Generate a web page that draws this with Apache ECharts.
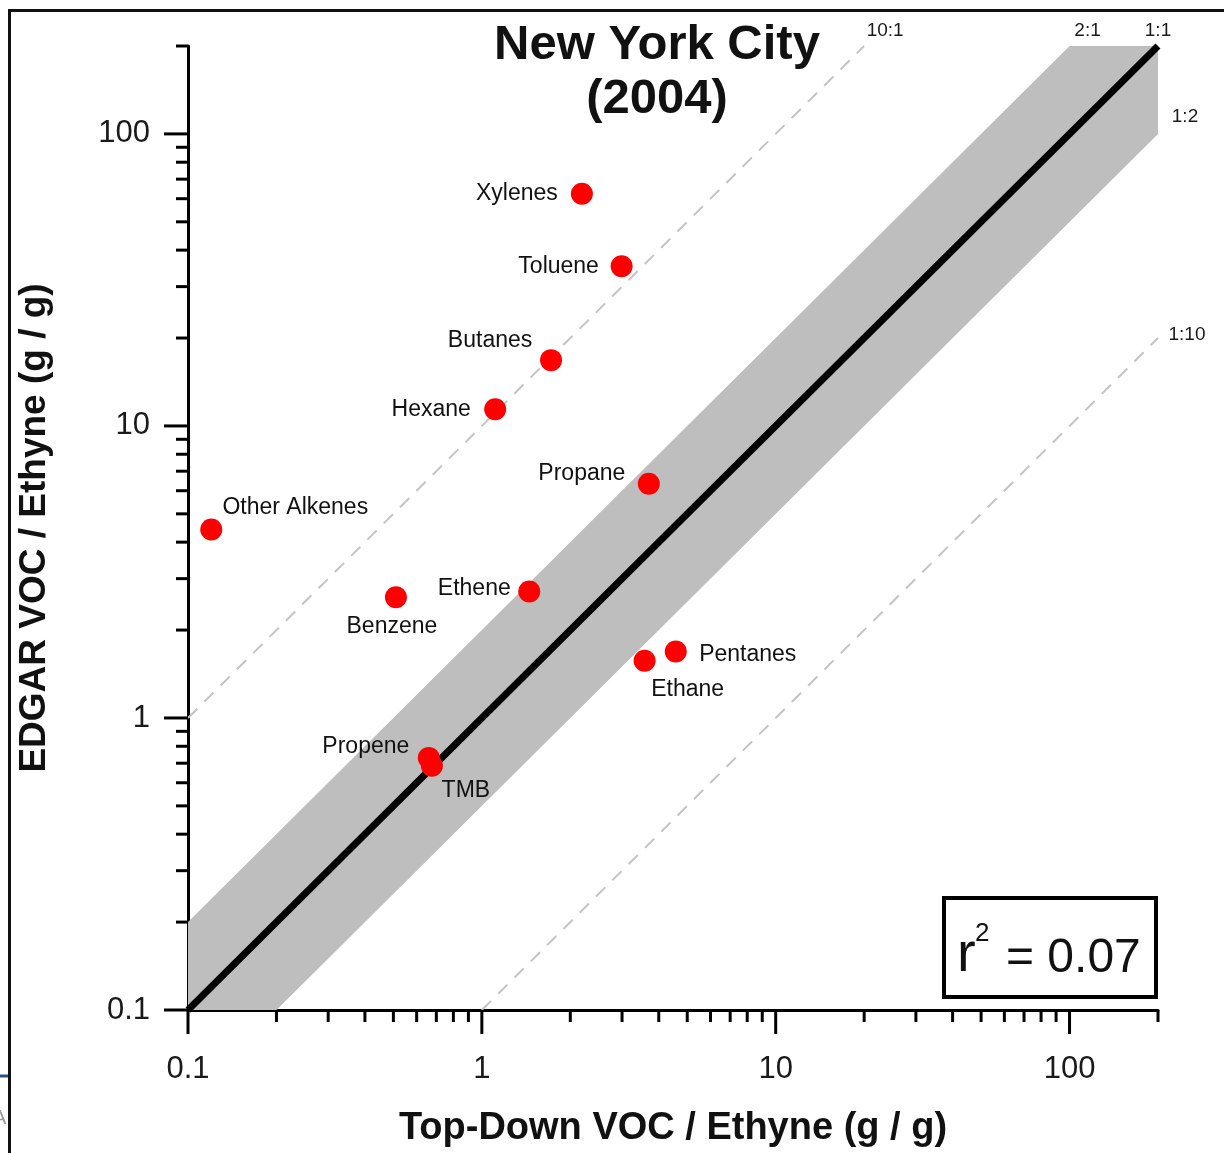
<!DOCTYPE html>
<html>
<head>
<meta charset="utf-8">
<script src="https://cdn.jsdelivr.net/npm/echarts@6/dist/echarts.min.js"></script>
<style>
html,body{margin:0;padding:0;background:#fff;}
#chart{width:1224px;height:1153px;}
</style>
</head>
<body>
<div id="chart"></div>
<script>
// ---- data ----
const species = ['Xylenes','Toluene','Butanes','Hexane','Propane','Other Alkenes','Benzene','Ethene','Pentanes','Ethane','Propene','TMB'];
const topDownRatio = [2.19, 2.99, 1.72, 1.11, 3.70, 0.12, 0.51, 1.45, 4.57, 3.58, 0.66, 0.676];
const edgarRatio   = [62.4, 35.2, 16.8, 11.4, 6.34, 4.42, 2.59, 2.71, 1.69, 1.57, 0.73, 0.686];
const ratioValues = [10, 2, 1, 0.5, 0.1];
const ratioNames  = ['10:1', '2:1', '1:1', '1:2', '1:10'];
const axisMin = 0.1;
const axisMax = 200;
const majorTicks = [0.1, 1, 10, 100];
const majorTickLabels = ['0.1', '1', '10', '100'];
const minorTicks = [0.2,0.3,0.4,0.5,0.6,0.7,0.8,0.9, 2,3,4,5,6,7,8,9, 20,30,40,50,60,70,80,90, 200];
const rSquaredText = '0.07';
const titleLines = ['New York City', '(2004)'];
const xAxisTitle = 'Top-Down VOC / Ethyne (g / g)';
const yAxisTitle = 'EDGAR VOC / Ethyne (g / g)';

// ---- styles (kept apart from data) ----
const FONT = 'Liberation Sans, Arial, Helvetica, sans-serif';
const labelOffsets = [[-65,0],[-63,0],[-61,-19],[-64,0],[-67,-10],[84,-22],[-4,29],[-55,-3],[72,3],[43,29],[-63,-11],[34,25]];
const ratioLabelOffsets = [[21,-15],[18,-15],[0,-15],[27,-17],[29,-3]];

// ratio line endpoints clipped to the axis box
function ratioSegment(r) {
  const x0 = Math.max(axisMin, axisMin / r);
  const x1 = Math.min(axisMax, axisMax / r);
  return [[x0, r * x0], [x1, r * x1]];
}

const upper = ratioSegment(2), lower = ratioSegment(0.5);
const bandPolygon = [lower[0], lower[1], [axisMax, axisMax], upper[1], upper[0], [axisMin, axisMin]];

const labelFmt = function (v) {
  for (let i = 0; i < majorTicks.length; i++) {
    if (Math.abs(v - majorTicks[i]) / majorTicks[i] < 1e-6) return majorTickLabels[i];
  }
  return '';
};

const tickData = [];
majorTicks.forEach(v => { tickData.push([v, axisMin, 24, 0]); tickData.push([axisMin, v, 24, 1]); });
minorTicks.forEach(v => { tickData.push([v, axisMin, 12, 0]); tickData.push([axisMin, v, 12, 1]); });

const series = [];
// grey 1:2 - 2:1 band
series.push({
  type: 'custom',
  z: 1,
  silent: true,
  clip: false,
  data: [[axisMin, axisMin]],
  renderItem: function (params, api) {
    return {
      type: 'polygon',
      shape: { points: bandPolygon.map(p => api.coord(p)) },
      style: { fill: '#bebebe' }
    };
  }
});
// dashed 10:1 and 1:10 lines
[10, 0.1].forEach(r => {
  series.push({
    type: 'line', z: 2, silent: true, clip: false, symbol: 'none',
    data: ratioSegment(r),
    lineStyle: { color: '#c4c4c4', width: 2, type: [13, 10] }
  });
});
// 1:1 line
series.push({
  type: 'line', z: 3, silent: true, clip: false, symbol: 'none',
  data: ratioSegment(1),
  lineStyle: { color: '#000', width: 7, cap: 'butt' }
});
// ratio labels at line ends
series.push({
  type: 'scatter', z: 4, silent: true, clip: false,
  symbolSize: 1,
  itemStyle: { color: 'rgba(0,0,0,0)', opacity: 1 },
  data: ratioValues.map((r, i) => ({
    value: ratioSegment(r)[1],
    label: { show: true, formatter: ratioNames[i], position: 'inside', offset: ratioLabelOffsets[i],
      color: '#1a1a1a', fontSize: 19, fontFamily: FONT }
  }))
});
// tick marks
series.push({
  type: 'custom', z: 5, silent: true, clip: false,
  data: tickData,
  renderItem: function (params, api) {
    const p = api.coord([api.value(0), api.value(1)]);
    const len = api.value(2);
    const which = api.value(3);
    const shape = which === 0
      ? { x1: p[0], y1: p[1], x2: p[0], y2: p[1] + len }
      : { x1: p[0] - len, y1: p[1], x2: p[0], y2: p[1] };
    return { type: 'line', shape: shape, style: { stroke: '#000', lineWidth: 3 } };
  }
});
// data points
series.push({
  type: 'scatter', z: 10, clip: false,
  symbolSize: 22,
  itemStyle: { color: '#ff0000', opacity: 1 },
  data: species.map((s, i) => ({
    name: s,
    value: [topDownRatio[i], edgarRatio[i]],
    label: { show: true, formatter: s, position: 'inside', offset: labelOffsets[i],
      color: '#111', fontSize: 23, fontFamily: FONT }
  }))
});

const option = {
  backgroundColor: '#fff',
  animation: false,
  grid: { left: 188, top: 46, right: 66, bottom: 140, containLabel: false },
  xAxis: {
    type: 'log', logBase: 10, min: axisMin, max: axisMax,
    name: xAxisTitle, nameLocation: 'middle', nameGap: 100,
    nameTextStyle: { fontSize: 38, fontWeight: 'bold', color: '#111', fontFamily: FONT },
    axisLine: { show: true, lineStyle: { color: '#000', width: 3 } },
    axisTick: { show: false },
    splitLine: { show: false },
    minorTick: { show: false },
    axisLabel: { formatter: labelFmt, fontSize: 31, color: '#1a1a1a', fontFamily: FONT, margin: 44,
      showMinLabel: true, showMaxLabel: true }
  },
  yAxis: {
    type: 'log', logBase: 10, min: axisMin, max: axisMax,
    name: yAxisTitle, nameLocation: 'middle', nameGap: 135,
    nameTextStyle: { fontSize: 37, fontWeight: 'bold', color: '#111', fontFamily: FONT },
    axisLine: { show: true, lineStyle: { color: '#000', width: 3 } },
    axisTick: { show: false },
    splitLine: { show: false },
    minorTick: { show: false },
    axisLabel: { formatter: labelFmt, fontSize: 31, color: '#1a1a1a', fontFamily: FONT, margin: 38,
      showMinLabel: true, showMaxLabel: true }
  },
  graphic: [
    // slide frame
    { type: 'line', shape: { x1: 8, y1: 10.5, x2: 1224, y2: 10.5 }, style: { stroke: '#111', lineWidth: 3 }, z: 100 },
    { type: 'line', shape: { x1: 9.5, y1: 9, x2: 9.5, y2: 1153 }, style: { stroke: '#111', lineWidth: 3 }, z: 100 },
    { type: 'line', shape: { x1: 0, y1: 1076, x2: 8, y2: 1076 }, style: { stroke: '#2b4f86', lineWidth: 3 }, z: 100 },
    { type: 'text', x: -7, y: 1108, style: { text: 'A', fill: '#999', font: '20px ' + FONT }, z: 100 },
    // title
    { type: 'text', x: 657, y: 45, style: { text: titleLines[0], fill: '#111', font: 'bold 49px ' + FONT, textAlign: 'center', textVerticalAlign: 'middle' }, z: 100 },
    { type: 'text', x: 657, y: 99, style: { text: titleLines[1], fill: '#111', font: 'bold 49px ' + FONT, textAlign: 'center', textVerticalAlign: 'middle' }, z: 100 },
    // r^2 box
    { type: 'rect', shape: { x: 944, y: 898, width: 212, height: 99 }, style: { fill: '#fff', stroke: '#000', lineWidth: 4 }, z: 100 },
    { type: 'text', x: 957, y: 956, style: { text: 'r', fill: '#111', font: '56px ' + FONT, textAlign: 'left', textVerticalAlign: 'middle' }, z: 101 },
    { type: 'text', x: 975, y: 934, style: { text: '2', fill: '#111', font: '26px ' + FONT, textAlign: 'left', textVerticalAlign: 'middle' }, z: 101 },
    { type: 'text', x: 1006, y: 959, style: { text: '= ' + rSquaredText, fill: '#111', font: '48px ' + FONT, textAlign: 'left', textVerticalAlign: 'middle' }, z: 101 }
  ],
  series: series
};

const chart = echarts.init(document.getElementById('chart'), null, { renderer: 'canvas' });
chart.setOption(option);
</script>
</body>
</html>
